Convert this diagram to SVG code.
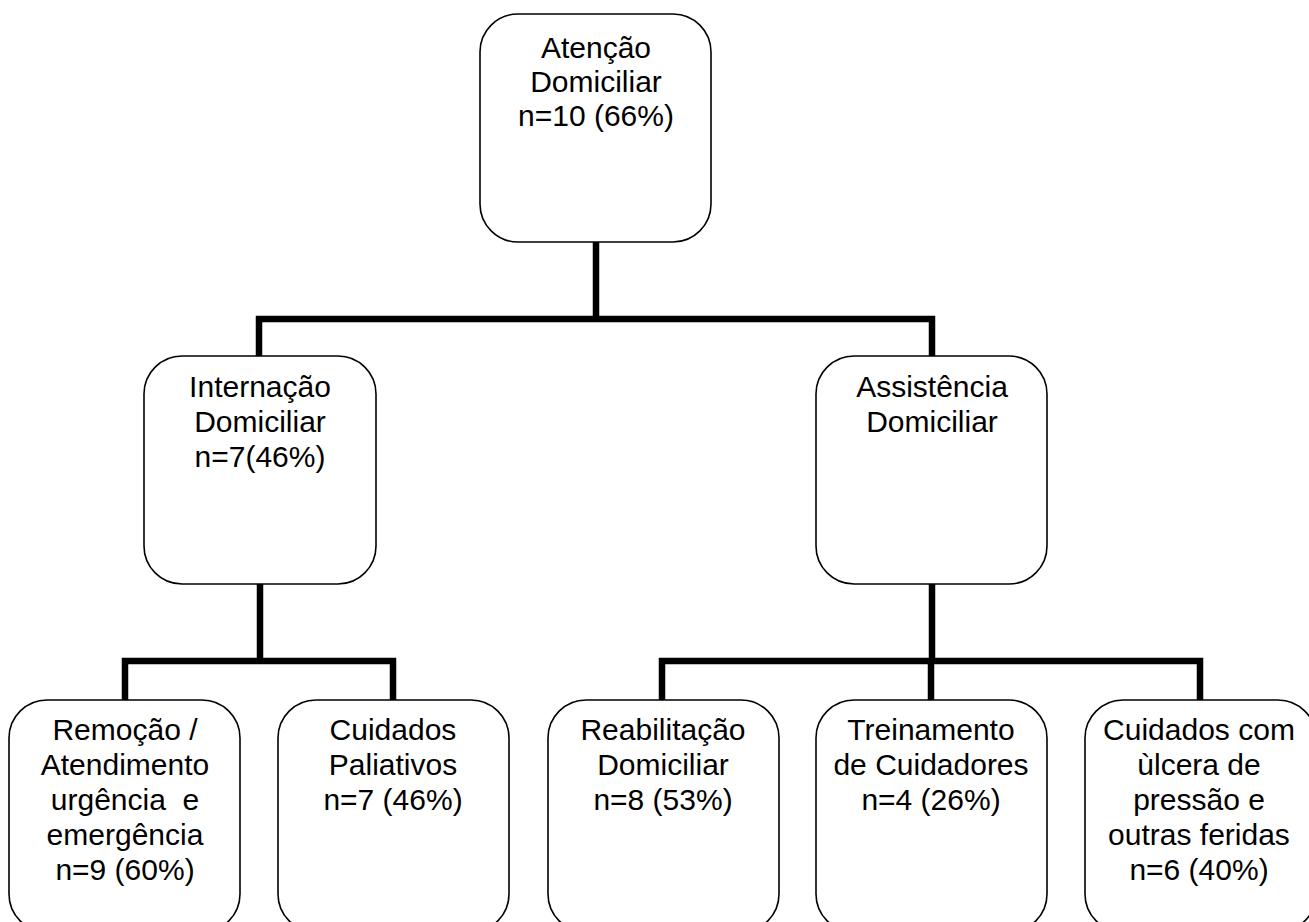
<svg xmlns="http://www.w3.org/2000/svg" width="1309" height="922" viewBox="0 0 1309 922">
  <style>
    .box { fill: #ffffff; stroke: #000000; stroke-width: 1.6; }
    .link { fill: none; stroke: #000000; stroke-width: 6.5; stroke-linecap: square; stroke-linejoin: miter; }
    text { font-family: "Liberation Sans", Arial, sans-serif; font-size: 30px; fill: #000000; text-anchor: middle; white-space: pre; }
  </style>
  <rect width="1309" height="922" fill="#ffffff"/>

  <!-- tree connectors (elbow style) -->
  <g id="connectors">
    <path class="link" d="M596,241 V319 M259,356 V319 H932 V356"/>
    <path class="link" d="M260,584 V661 M125,700 V661 H393 V700"/>
    <path class="link" d="M932,584 V661 M662,700 V661 H1200 V700 M931,661 V700"/>
  </g>

  <g id="atencao">
    <rect class="box" x="480" y="14" width="231" height="228" rx="38"/>
    <text x="596" y="58">Atenção</text>
    <text x="596" y="92">Domiciliar</text>
    <text x="596" y="126">n=10 (66%)</text>
  </g>

  <g id="internacao">
    <rect class="box" x="144" y="356" width="232" height="228" rx="38"/>
    <text x="260" y="397">Internação</text>
    <text x="260" y="432">Domiciliar</text>
    <text x="260" y="467">n=7(46%)</text>
  </g>

  <g id="assistencia">
    <rect class="box" x="816" y="356" width="231" height="228" rx="38"/>
    <text x="932" y="397">Assistência</text>
    <text x="932" y="432">Domiciliar</text>
  </g>

  <g id="remocao">
    <rect class="box" x="9" y="700" width="231" height="232" rx="38"/>
    <text x="125" y="740">Remoção /</text>
    <text x="125" y="775">Atendimento</text>
    <text x="125" y="810">urgência  e</text>
    <text x="125" y="845">emergência</text>
    <text x="125" y="880">n=9 (60%)</text>
  </g>

  <g id="paliativos">
    <rect class="box" x="278" y="700" width="231" height="232" rx="38"/>
    <text x="393" y="740">Cuidados</text>
    <text x="393" y="775">Paliativos</text>
    <text x="393" y="810">n=7 (46%)</text>
  </g>

  <g id="reabilitacao">
    <rect class="box" x="548" y="700" width="231" height="232" rx="38"/>
    <text x="663" y="740">Reabilitação</text>
    <text x="663" y="775">Domiciliar</text>
    <text x="663" y="810">n=8 (53%)</text>
  </g>

  <g id="treinamento">
    <rect class="box" x="816" y="700" width="231" height="232" rx="38"/>
    <text x="931" y="740">Treinamento</text>
    <text x="931" y="775">de Cuidadores</text>
    <text x="931" y="810">n=4 (26%)</text>
  </g>

  <g id="ulcera">
    <rect class="box" x="1085" y="700" width="231" height="232" rx="38"/>
    <text x="1199" y="740">Cuidados com</text>
    <text x="1199" y="775">ùlcera de</text>
    <text x="1199" y="810">pressão e</text>
    <text x="1199" y="845">outras feridas</text>
    <text x="1199" y="880">n=6 (40%)</text>
  </g>
</svg>
